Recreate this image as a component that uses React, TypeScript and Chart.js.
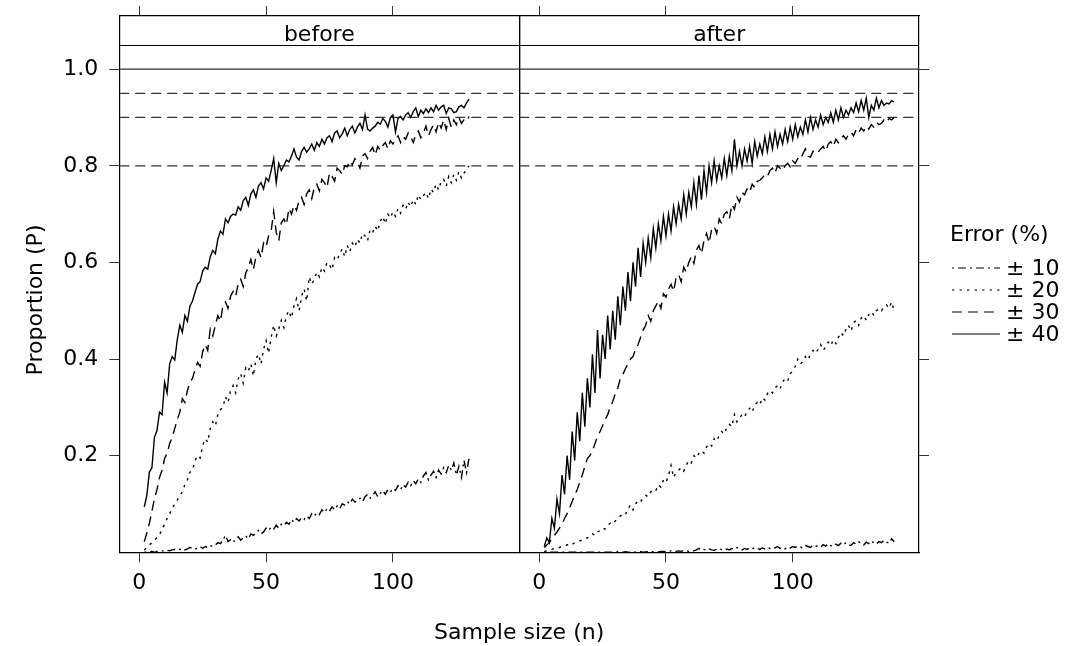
import React, { useEffect, useRef } from "react";
import { Chart, registerables } from "chart.js";

Chart.register(...registerables);
Chart.defaults.font.family = '"DejaVu Sans", sans-serif';
Chart.defaults.color = "#000";

// ---------------- data ----------------
const N_START = 2; // first sample size in every series
const panels = ["before", "after"];
const errorLabels = ["± 10", "± 20", "± 30", "± 40"];
const xTicks = [0, 50, 100];
const yTicks = [0.2, 0.4, 0.6, 0.8, 1.0];
const refSolid = [1.0];
const refDashed = [0.95, 0.9, 0.8];

// before: n = 2..130
const before10 = [
  0, 0, 0, 0.002, 0, 0.002, 0.002, 0.003, 0.002, 0.004,
  0.003, 0.005, 0.006, 0.004, 0.006, 0.008, 0.005, 0.007, 0.01, 0.008,
  0.006, 0.01, 0.012, 0.008, 0.012, 0.01, 0.014, 0.012, 0.015, 0.02,
  0.018, 0.025, 0.035, 0.022, 0.026, 0.02, 0.028, 0.032, 0.025, 0.03,
  0.034, 0.028, 0.038, 0.035, 0.04, 0.045, 0.038, 0.042, 0.05, 0.045,
  0.052, 0.048, 0.056, 0.05, 0.058, 0.055, 0.062, 0.058, 0.068, 0.062,
  0.07, 0.065, 0.072, 0.068, 0.075, 0.07, 0.08, 0.075, 0.082, 0.078,
  0.088, 0.082, 0.09, 0.085, 0.094, 0.088, 0.096, 0.09, 0.1, 0.098,
  0.105, 0.1, 0.11, 0.104, 0.108, 0.112, 0.105, 0.115, 0.12, 0.112,
  0.118, 0.125, 0.115, 0.122, 0.128, 0.12, 0.13, 0.125, 0.132, 0.128,
  0.138, 0.13, 0.14, 0.135, 0.145, 0.138, 0.148, 0.142, 0.152, 0.145,
  0.158, 0.165, 0.15, 0.16, 0.168, 0.155, 0.17, 0.162, 0.175, 0.165,
  0.18, 0.17, 0.185, 0.16, 0.178, 0.155, 0.19, 0.165, 0.195,
];
const before20 = [
  0.005, 0.01, 0.015, 0.02, 0.025, 0.03, 0.036, 0.048, 0.058, 0.07,
  0.08, 0.091, 0.1, 0.108, 0.118, 0.125, 0.14, 0.15, 0.166, 0.17,
  0.19, 0.2, 0.195, 0.221, 0.235, 0.228, 0.256, 0.27, 0.262, 0.285,
  0.295, 0.3, 0.322, 0.31, 0.335, 0.345, 0.33, 0.359, 0.37, 0.35,
  0.382, 0.375, 0.39, 0.365, 0.4, 0.41, 0.39, 0.42, 0.438, 0.412,
  0.445, 0.47, 0.448, 0.462, 0.48, 0.465, 0.49, 0.5, 0.485, 0.51,
  0.525, 0.5, 0.53, 0.545, 0.52, 0.57, 0.555, 0.565, 0.58, 0.57,
  0.59, 0.582, 0.6, 0.595, 0.585, 0.61, 0.605, 0.618, 0.628, 0.612,
  0.635, 0.622, 0.64, 0.632, 0.648, 0.64, 0.66, 0.655, 0.645, 0.668,
  0.662, 0.675, 0.665, 0.685, 0.695, 0.68, 0.7, 0.692, 0.705, 0.695,
  0.712, 0.702, 0.718, 0.71, 0.725, 0.715, 0.73, 0.72, 0.74, 0.73,
  0.738, 0.745, 0.732, 0.752, 0.745, 0.762, 0.75, 0.768, 0.772, 0.758,
  0.778, 0.765, 0.782, 0.77, 0.788, 0.775, 0.785, 0.792, 0.8,
];
const before30 = [
  0.022, 0.04, 0.06, 0.085, 0.111, 0.13, 0.155, 0.17, 0.194, 0.205,
  0.225, 0.238, 0.256, 0.275, 0.29, 0.318, 0.31, 0.335, 0.352, 0.36,
  0.378, 0.393, 0.385, 0.415, 0.43, 0.418, 0.462, 0.448, 0.47, 0.49,
  0.478, 0.51, 0.518, 0.505, 0.53, 0.54, 0.53, 0.555, 0.565, 0.55,
  0.578, 0.59, 0.606, 0.585, 0.612, 0.625, 0.61, 0.64, 0.632, 0.655,
  0.665, 0.705, 0.662, 0.645, 0.682, 0.69, 0.678, 0.712, 0.7, 0.718,
  0.708, 0.728, 0.735, 0.72, 0.742, 0.75, 0.732, 0.755, 0.762, 0.748,
  0.772, 0.765, 0.755, 0.785, 0.778, 0.768, 0.795, 0.79, 0.782, 0.8,
  0.798, 0.81, 0.802, 0.815, 0.808, 0.795, 0.82, 0.825, 0.815, 0.83,
  0.838, 0.822, 0.84, 0.832, 0.842, 0.848, 0.835, 0.852, 0.845, 0.855,
  0.862, 0.848, 0.86, 0.855, 0.868, 0.86, 0.848, 0.865, 0.872, 0.858,
  0.868, 0.882, 0.862, 0.875, 0.885, 0.87, 0.89, 0.878, 0.895, 0.875,
  0.898, 0.88, 0.895, 0.885, 0.9, 0.888, 0.895, 0.892, 0.902,
];
const before40 = [
  0.094, 0.118, 0.166, 0.175, 0.238, 0.252, 0.29, 0.285, 0.352, 0.33,
  0.39, 0.405, 0.398, 0.44, 0.47, 0.455, 0.49, 0.478, 0.51, 0.52,
  0.538, 0.555, 0.56, 0.582, 0.59, 0.586, 0.612, 0.625, 0.618, 0.648,
  0.665, 0.658, 0.69, 0.682, 0.695, 0.7, 0.698, 0.715, 0.708, 0.728,
  0.735, 0.718, 0.742, 0.75, 0.735, 0.758, 0.765, 0.752, 0.775, 0.768,
  0.79, 0.815, 0.765, 0.805, 0.79, 0.8, 0.812, 0.808, 0.82, 0.835,
  0.818, 0.812, 0.83, 0.838, 0.828, 0.835, 0.845, 0.832, 0.848, 0.84,
  0.855, 0.845, 0.858, 0.862, 0.85, 0.868, 0.872, 0.858, 0.866, 0.878,
  0.862, 0.875, 0.882, 0.868, 0.88, 0.888, 0.875, 0.905, 0.876, 0.872,
  0.878, 0.882, 0.89, 0.886, 0.898, 0.892, 0.88, 0.9, 0.905, 0.87,
  0.898, 0.902, 0.895, 0.905, 0.91, 0.9, 0.912, 0.92, 0.902, 0.915,
  0.908, 0.918, 0.91, 0.92, 0.912, 0.925, 0.915, 0.922, 0.925, 0.908,
  0.92, 0.918, 0.91, 0.912, 0.922, 0.925, 0.92, 0.93, 0.938,
];

// after: n = 2..140
const after10 = [
  0, 0, 0, 0, 0, 0, 0, 0, 0, 0,
  0, 0, 0, 0, 0, 0, 0, 0, 0, 0,
  0, 0, 0, 0, 0, 0, 0, 0, 0, 0.001,
  0, 0, 0.001, 0, 0, 0.001, 0, 0.001, 0.001, 0,
  0.001, 0.002, 0.001, 0.001, 0.002, 0.001, 0.002, 0.002, 0.001, 0.002,
  0.003, 0.002, 0.002, 0.003, 0.002, 0.004, 0.003, 0.002, 0.004, 0.003,
  0.005, 0.008, 0.004, 0.006, 0.004, 0.007, 0.005, 0.004, 0.006, 0.008,
  0.005, 0.004, 0.007, 0.005, 0.008, 0.006, 0.01, 0.007, 0.005, 0.008,
  0.006, 0.009, 0.007, 0.01, 0.008, 0.006, 0.009, 0.007, 0.01, 0.008,
  0.011, 0.009, 0.012, 0.008, 0.01, 0.007, 0.011, 0.009, 0.012, 0.01,
  0.013, 0.011, 0.009, 0.014, 0.012, 0.01, 0.015, 0.012, 0.014, 0.011,
  0.016, 0.013, 0.018, 0.014, 0.012, 0.017, 0.014, 0.019, 0.015, 0.02,
  0.016, 0.014, 0.02, 0.017, 0.022, 0.018, 0.015, 0.021, 0.018, 0.024,
  0.019, 0.017, 0.022, 0.02, 0.025, 0.021, 0.019, 0.028, 0.022,
];
const after20 = [
  0.002, 0.003, 0.004, 0.006, 0.008, 0.01, 0.01, 0.012, 0.014, 0.015,
  0.018, 0.016, 0.02, 0.022, 0.024, 0.025, 0.028, 0.03, 0.032, 0.038,
  0.035, 0.042, 0.045, 0.05, 0.048, 0.056, 0.06, 0.058, 0.065, 0.07,
  0.075, 0.08, 0.078, 0.09, 0.098, 0.088, 0.1, 0.108, 0.105, 0.112,
  0.118, 0.115, 0.125, 0.13, 0.128, 0.14, 0.135, 0.15, 0.145, 0.158,
  0.18, 0.155, 0.165, 0.17, 0.175, 0.168, 0.18, 0.19, 0.185, 0.2,
  0.195, 0.205, 0.21, 0.205, 0.218, 0.225, 0.22, 0.235, 0.23, 0.242,
  0.25, 0.245, 0.258, 0.265, 0.26, 0.285, 0.27, 0.278, 0.285, 0.28,
  0.292, 0.298, 0.29, 0.305, 0.31, 0.305, 0.32, 0.315, 0.328, 0.335,
  0.33, 0.34, 0.345, 0.338, 0.352, 0.36, 0.355, 0.37, 0.375, 0.385,
  0.4, 0.39, 0.395, 0.405, 0.398, 0.41, 0.418, 0.412, 0.42, 0.43,
  0.418, 0.425, 0.435, 0.428, 0.44, 0.432, 0.445, 0.455, 0.448, 0.462,
  0.47, 0.458, 0.475, 0.48, 0.47, 0.485, 0.49, 0.48, 0.492, 0.498,
  0.49, 0.5, 0.505, 0.5, 0.508, 0.512, 0.505, 0.518, 0.5,
];
const after30 = [
  0.01, 0.015, 0.02, 0.028, 0.035, 0.042, 0.05, 0.058, 0.07, 0.08,
  0.092, 0.105, 0.118, 0.13, 0.145, 0.16, 0.178, 0.194, 0.2, 0.21,
  0.225, 0.24, 0.25, 0.262, 0.275, 0.285, 0.3, 0.312, 0.328, 0.34,
  0.36, 0.368, 0.38, 0.39, 0.4, 0.405, 0.42, 0.43, 0.445, 0.46,
  0.47, 0.49, 0.478, 0.5, 0.51, 0.52, 0.505, 0.535, 0.528, 0.545,
  0.555, 0.54, 0.568, 0.575, 0.56, 0.59, 0.58, 0.6, 0.612, 0.598,
  0.625, 0.635, 0.618, 0.645, 0.66, 0.64, 0.668, 0.675, 0.66, 0.69,
  0.68, 0.7, 0.705, 0.69, 0.72, 0.71, 0.735, 0.725, 0.745, 0.74,
  0.752, 0.745, 0.762, 0.755, 0.768, 0.77, 0.775, 0.782, 0.778, 0.79,
  0.795, 0.785, 0.8, 0.795, 0.79, 0.8, 0.805, 0.798, 0.81, 0.805,
  0.815, 0.812, 0.825, 0.835, 0.82, 0.818, 0.83, 0.825, 0.828, 0.835,
  0.84, 0.83, 0.845, 0.85, 0.84, 0.855, 0.848, 0.858, 0.862, 0.855,
  0.865, 0.87, 0.862, 0.875, 0.868, 0.878, 0.872, 0.882, 0.876, 0.885,
  0.88, 0.89, 0.885, 0.888, 0.895, 0.89, 0.898, 0.895, 0.9,
];
const after40 = [
  0.012, 0.03, 0.02, 0.07, 0.05, 0.11, 0.08, 0.16, 0.12, 0.2,
  0.15, 0.25, 0.19, 0.29, 0.23, 0.33, 0.26, 0.36, 0.3, 0.41,
  0.33, 0.46, 0.36, 0.45, 0.4, 0.49, 0.42, 0.5, 0.44, 0.53,
  0.47, 0.55, 0.5, 0.58, 0.52, 0.6, 0.55, 0.63, 0.57, 0.64,
  0.6, 0.65, 0.61, 0.67, 0.63, 0.68, 0.645, 0.695, 0.655, 0.7,
  0.665, 0.715, 0.68, 0.72, 0.69, 0.74, 0.7, 0.745, 0.715, 0.765,
  0.72, 0.78, 0.73, 0.79, 0.745, 0.8, 0.765, 0.81, 0.77, 0.8,
  0.775, 0.815, 0.78, 0.82, 0.79, 0.855, 0.8, 0.83, 0.8, 0.835,
  0.81, 0.84, 0.805, 0.85, 0.82, 0.845, 0.825, 0.86, 0.83, 0.865,
  0.835, 0.87, 0.84, 0.865, 0.845, 0.875, 0.85, 0.88, 0.855, 0.885,
  0.86, 0.88, 0.865, 0.895, 0.87, 0.9, 0.875, 0.895, 0.88, 0.905,
  0.885, 0.9, 0.89, 0.91, 0.89, 0.915, 0.895, 0.92, 0.9, 0.915,
  0.905, 0.92, 0.91, 0.93, 0.912, 0.935, 0.915, 0.94, 0.9, 0.925,
  0.915, 0.94, 0.92, 0.935, 0.925, 0.93, 0.928, 0.935, 0.932,
];

const seriesByPanel = [
  [before10, before20, before30, before40],
  [after10, after20, after30, after40],
];

// ---------------- layout / style ----------------
const W = 1069;
const H = 646;
const TOP = 16; // top of strip
const STRIP_BOTTOM = 45; // top of panel data region
const BOTTOM = 552.3;
const P1_LEFT = 119.3;
const MID = 519.3;
const P2_RIGHT = 919;
const X_MIN = -7.85;
const X_MAX = 149.8;
const Y_MIN = 0;
const Y_PANEL_MAX = 1.05;
const Y_MAX = Y_PANEL_MAX + ((STRIP_BOTTOM - TOP) * (Y_PANEL_MAX - Y_MIN)) / (BOTTOM - STRIP_BOTTOM);
const FONT = 22;
const LINE_W = 1.2;
const DATA_W = 1.4;
const DASHES = [
  [2, 4, 8, 4],
  [2.5, 5],
  [10, 6],
  [],
];
const REF_DASH = [10, 6];
const REF_COLOR = "#333";

const stripPlugin = {
  id: "strip",
  afterDatasetsDraw(chart: any, _args: any, opts: any) {
    const { ctx, chartArea, scales } = chart;
    const y = scales.y.getPixelForValue(Y_PANEL_MAX);
    ctx.save();
    ctx.strokeStyle = "#000";
    ctx.lineWidth = LINE_W;
    ctx.beginPath();
    ctx.moveTo(chartArea.left, Math.round(y) + 0.5);
    ctx.lineTo(chartArea.right, Math.round(y) + 0.5);
    ctx.stroke();
    ctx.fillStyle = "#000";
    ctx.font = `${FONT}px "DejaVu Sans"`;
    ctx.textAlign = "center";
    ctx.textBaseline = "alphabetic";
    ctx.fillText(opts.label, (chartArea.left + chartArea.right) / 2, y - 4.5);
    ctx.restore();
  },
};

function zeroPadding(s: any) {
  s.paddingTop = 0;
  s.paddingBottom = 0;
  s.paddingLeft = 0;
  s.paddingRight = 0;
}

function makeConfig(p: number): any {
  const series = seriesByPanel[p];
  const refs = [
    ...refSolid.map((v) => ({ v, dash: [] as number[] })),
    ...refDashed.map((v) => ({ v, dash: REF_DASH })),
  ];
  const datasets = [
    ...series.map((s, i) => ({
      label: errorLabels[i],
      data: s.map((v, k) => ({ x: k + N_START, y: v })),
      borderColor: "#000",
      borderWidth: DATA_W,
      borderDash: DASHES[i],
      pointRadius: 0,
      tension: 0,
      fill: false,
    })),
    ...refs.map((r) => ({
      label: "ref",
      data: [
        { x: X_MIN, y: r.v },
        { x: X_MAX, y: r.v },
      ],
      borderColor: REF_COLOR,
      borderWidth: LINE_W,
      borderDash: r.dash,
      pointRadius: 0,
      fill: false,
    })),
  ];

  const isLeft = p === 0;
  const gridBase = { drawOnChartArea: false, tickLength: 10, color: "#333", lineWidth: 1 };
  const border = { display: true, color: "#000", width: LINE_W };
  const font = { size: FONT, family: '"DejaVu Sans"' };

  return {
    type: "line",
    data: { datasets },
    options: {
      responsive: false,
      animation: false,
      events: [],
      layout: { padding: 0 },
      plugins: {
        legend: { display: false },
        tooltip: { enabled: false },
        strip: { label: panels[p] },
      },
      scales: {
        x: {
          type: "linear",
          axis: "x",
          position: "bottom",
          min: X_MIN,
          max: X_MAX,
          afterBuildTicks: (s: any) => {
            s.ticks = xTicks.map((v) => ({ value: v }));
          },
          afterFit: (s: any) => {
            s.height = H - BOTTOM;
            zeroPadding(s);
          },
          grid: { ...gridBase, drawTicks: true },
          border,
          ticks: {
            display: true,
            padding: 8,
            color: "#000",
            font,
            maxRotation: 0,
            autoSkip: false,
            callback: (v: any) => String(v),
          },
        },
        xTop: {
          type: "linear",
          axis: "x",
          position: "top",
          min: X_MIN,
          max: X_MAX,
          afterBuildTicks: (s: any) => {
            s.ticks = xTicks.map((v) => ({ value: v }));
          },
          afterFit: (s: any) => {
            s.height = TOP;
            zeroPadding(s);
          },
          grid: { ...gridBase, drawTicks: true },
          border,
          ticks: { display: false },
        },
        y: {
          type: "linear",
          axis: "y",
          position: "left",
          min: Y_MIN,
          max: Y_MAX,
          afterBuildTicks: (s: any) => {
            s.ticks = yTicks.map((v) => ({ value: v }));
          },
          afterFit: (s: any) => {
            s.width = isLeft ? P1_LEFT : MID;
            zeroPadding(s);
          },
          grid: { ...gridBase, drawTicks: isLeft },
          border,
          ticks: {
            display: isLeft,
            padding: 11,
            color: "#000",
            font,
            autoSkip: false,
            callback: (v: any) => Number(v).toFixed(1),
          },
        },
        yR: {
          type: "linear",
          axis: "y",
          position: "right",
          min: Y_MIN,
          max: Y_MAX,
          afterBuildTicks: (s: any) => {
            s.ticks = yTicks.map((v) => ({ value: v }));
          },
          afterFit: (s: any) => {
            s.width = isLeft ? W - MID : W - P2_RIGHT;
            zeroPadding(s);
          },
          grid: { ...gridBase, drawTicks: !isLeft },
          border,
          ticks: { display: false },
        },
      },
    },
    plugins: [stripPlugin],
  };
}

const LEGEND_X0 = 952;
const LEGEND_X1 = 1000;
const LEGEND_TEXT_X = 1006;
const LEGEND_ROWS_Y = [268, 290, 312, 334];

export default function App() {
  const c1 = useRef<HTMLCanvasElement>(null);
  const c2 = useRef<HTMLCanvasElement>(null);

  useEffect(() => {
    const charts = [
      new Chart(c1.current as HTMLCanvasElement, makeConfig(0)),
      new Chart(c2.current as HTMLCanvasElement, makeConfig(1)),
    ];
    return () => charts.forEach((c) => c.destroy());
  }, []);

  const canvasStyle: React.CSSProperties = {
    position: "absolute",
    left: 0,
    top: 0,
    width: W,
    height: H,
  };

  return (
    <div
      style={{
        position: "absolute",
        left: 0,
        top: 0,
        width: W,
        height: H,
        background: "#fff",
        overflow: "hidden",
      }}
    >
      <canvas ref={c1} width={W} height={H} style={canvasStyle} />
      <canvas ref={c2} width={W} height={H} style={canvasStyle} />
      <svg
        width={W}
        height={H}
        style={{ position: "absolute", left: 0, top: 0, pointerEvents: "none" }}
        fontFamily='"DejaVu Sans", sans-serif'
        fontSize={FONT}
      >
        <text
          transform="translate(41.5,300) rotate(-90)"
          textAnchor="middle"
          fill="#000"
        >
          Proportion (P)
        </text>
        <text x={(P1_LEFT + P2_RIGHT) / 2} y={639} textAnchor="middle" fill="#000">
          Sample size (n)
        </text>
        <text x={950} y={241} fill="#000">
          Error (%)
        </text>
        {errorLabels.map((lab, i) => (
          <g key={lab}>
            <line
              x1={LEGEND_X0}
              x2={LEGEND_X1}
              y1={LEGEND_ROWS_Y[i]}
              y2={LEGEND_ROWS_Y[i]}
              stroke="#000"
              strokeWidth={LINE_W}
              strokeDasharray={DASHES[i].length ? DASHES[i].join(" ") : undefined}
            />
            <text x={LEGEND_TEXT_X} y={LEGEND_ROWS_Y[i] + 6.5} fill="#000">
              {lab}
            </text>
          </g>
        ))}
      </svg>
    </div>
  );
}
